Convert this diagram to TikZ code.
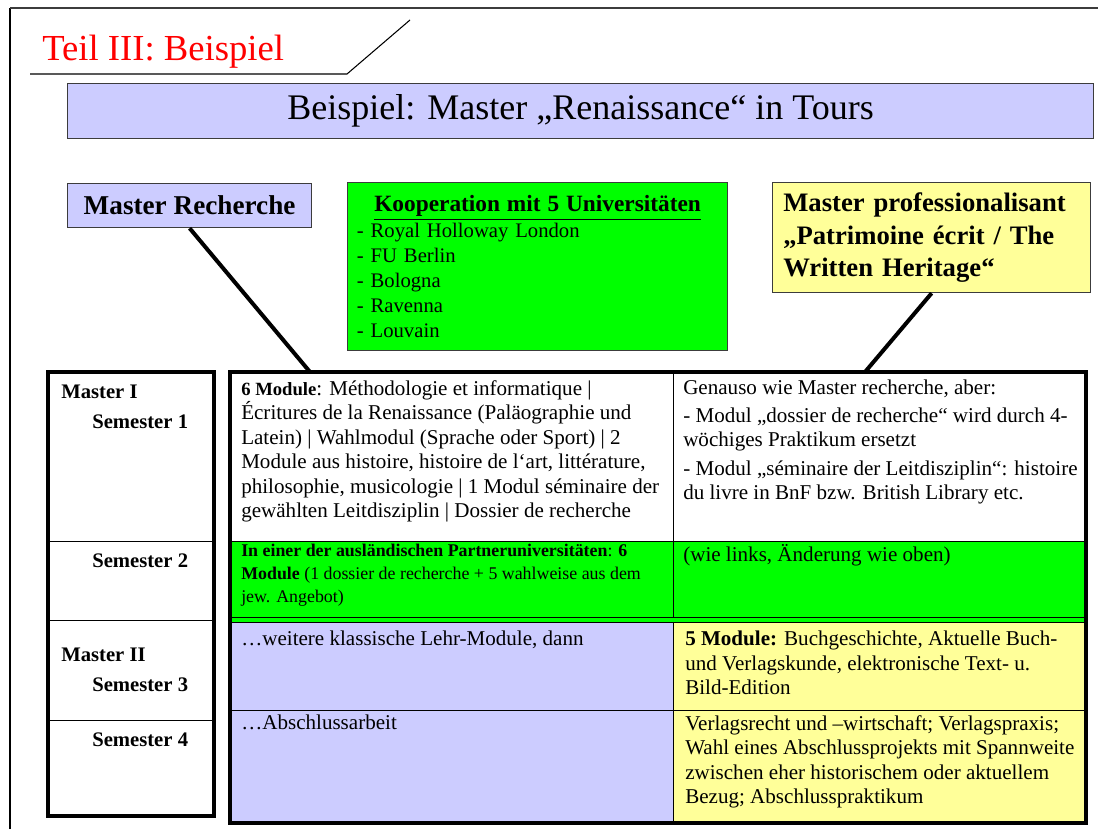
\documentclass[tikz,border=0pt]{standalone}
\usepackage{fontspec}
\setmainfont{Liberation Serif}
\usepackage{tikz}
\usetikzlibrary{positioning, calc}
\definecolor{mylav}{RGB}{204,204,255}
\definecolor{mygreen}{RGB}{0,255,0}
\definecolor{myyellow}{RGB}{255,255,153}
\definecolor{myred}{RGB}{255,0,0}
\definecolor{myframe}{RGB}{60,60,60}
\tikzset{
  topbox/.style={rectangle, draw=myframe, line width=0.9pt,
    anchor=north west, inner ysep=0pt},
  cell/.style={rectangle, draw=black, line width=0.9pt,
    anchor=north west, inner sep=0pt},
  celltext/.style={anchor=north west, align=left, inner sep=0pt,
    font=\fontsize{15.8}{18.4}\selectfont},
  semlabel/.style={anchor=base west, inner sep=0pt,
    font=\bfseries\fontsize{15.5}{18}\selectfont},
  connector/.style={line width=3pt, color=black},
  outer/.style={line width=3pt, color=black}
}

\begin{document}
\begin{tikzpicture}[x=0.75pt, y=-0.75pt]
  \useasboundingbox (0,0) rectangle (1098,829);

  % Frame and heading
  \draw[line width=1.7pt] (10,829) -- (10,8);
  \draw[line width=1.2pt, color=myframe] (10,8) -- (1098,8);
  \node (teil) at (42,60) [anchor=base west, inner sep=0pt, text=myred,
    font=\fontsize{27.5}{32}\selectfont] {Teil III: Beispiel};
  \coordinate (hl0) at (30,74);
  \coordinate (hl1) at (347,74);
  \coordinate (hl2) at (410,20);
  \draw[line width=0.8pt] (hl0) -- (hl1) -- (hl2);

  % Title bar
  \node (titel) at (67,83) [topbox, fill=mylav, minimum width=769.5pt,
    minimum height=41.25pt, font=\fontsize{27}{32}\selectfont]
    {Beispiel: Master „Renaissance“ in Tours};

  % Upper boxes
  \node (recherche) at (67,183) [topbox, fill=mylav, minimum width=183pt,
    minimum height=33pt, font=\bfseries\fontsize{20.4}{24}\selectfont]
    {Master Recherche};
  \node (koop) at (347,182) [topbox, fill=mygreen, minimum width=285pt,
    minimum height=126pt, text width=271pt, inner xsep=7pt, align=left,
    font=\fontsize{15.5}{18.8}\selectfont]
    {\makebox[\linewidth]{\bfseries\fontsize{17.5}{18.8}\selectfont\underline{Kooperation mit 5 Universitäten}}\\
     - Royal Holloway London\\ - FU Berlin\\ - Bologna\\ - Ravenna\\ - Louvain};
  \node (prof) at (772,182) [topbox, fill=myyellow, minimum width=238.5pt,
    minimum height=82.5pt, text width=222.5pt, inner xsep=8pt, align=left,
    font=\bfseries\fontsize{20}{24.4}\selectfont]
    {Master professionalisant\\„Patrimoine écrit / The\\Written Heritage“};

  % Semester column
  \node (l1) at (48,372) [cell, minimum width=123.75pt, minimum height=126.75pt] {};
  \node (l2) at (48,541) [cell, minimum width=123.75pt, minimum height=59.25pt] {};
  \node (l3) at (48,620) [cell, minimum width=123.75pt, minimum height=75pt] {};
  \node (l4) at (48,720) [cell, minimum width=123.75pt, minimum height=71.25pt] {};
  \draw[outer] (l1.north west) rectangle (l4.south east);
  \node[semlabel] (m1) at ([shift={(13,26)}]l1.north west) {Master I};
  \node[semlabel] (s1) at ([shift={(44,56)}]l1.north west) {Semester 1};
  \node[semlabel] (s2) at ([shift={(44,26)}]l2.north west) {Semester 2};
  \node[semlabel] (m2) at ([shift={(13,41)}]l3.north west) {Master II};
  \node[semlabel] (s3) at ([shift={(44,71)}]l3.north west) {Semester 3};
  \node[semlabel] (s4) at ([shift={(44,26)}]l4.north west) {Semester 4};

  % Main table
  \node (c11) at (230,372) [cell, fill=white, minimum width=332.25pt, minimum height=126.75pt] {};
  \node (c12) at (673,372) [cell, fill=white, minimum width=309pt, minimum height=126.75pt] {};
  \node (c21) at (230,541) [cell, fill=mygreen, minimum width=332.25pt, minimum height=57pt] {};
  \node (c22) at (673,541) [cell, fill=mygreen, minimum width=309pt, minimum height=57pt] {};
  \node (strip) at (230,617) [cell, fill=mygreen, minimum width=641.25pt, minimum height=3.75pt] {};
  \node (c31) at (230,622) [cell, fill=mylav, minimum width=332.25pt, minimum height=66pt] {};
  \node (c32) at (673,622) [cell, fill=myyellow, minimum width=309pt, minimum height=66pt] {};
  \node (c41) at (230,710) [cell, fill=mylav, minimum width=332.25pt, minimum height=84pt] {};
  \node (c42) at (673,710) [cell, fill=myyellow, minimum width=309pt, minimum height=84pt] {};
  \draw[outer] (c11.north west) rectangle (c42.south east);

  % Cell texts
  \node[celltext] (t11) at ([shift={(11,8)}]c11.north west)
    {{\bfseries\fontsize{14}{18.4}\selectfont 6 Module}: Méthodologie et informatique |\\
     Écritures de la Renaissance (Paläographie und\\
     Latein) | Wahlmodul (Sprache oder Sport) | 2\\
     Module aus histoire, histoire de l‘art, littérature,\\
     philosophie, musicologie | 1 Modul séminaire der\\
     gewählten Leitdisziplin | Dossier de recherche};
  \node[celltext] (t12) at ([shift={(10,8)}]c12.north west)
    {Genauso wie Master recherche, aber:\\[2pt]
     - Modul „dossier de recherche“ wird durch 4-\\
     wöchiges Praktikum ersetzt\\[3pt]
     - Modul „séminaire der Leitdisziplin“: histoire\\
     du livre in BnF bzw. British Library etc.};
  \node[celltext, font=\fontsize{13.4}{17.2}\selectfont] (t21) at ([shift={(11,3)}]c21.north west)
    {\textbf{In einer der ausländischen Partneruniversitäten}: \textbf{6}\\
     \textbf{Module} (1 dossier de recherche + 5 wahlweise aus dem\\
     jew. Angebot)};
  \node[celltext] (t22) at ([shift={(10,3)}]c22.north west)
    {(wie links, Änderung wie oben)};
  \node[celltext] (t31) at ([shift={(11,9)}]c31.north west)
    {…weitere klassische Lehr-Module, dann};
  \node[celltext] (t32) at ([shift={(12,9)}]c32.north west)
    {\textbf{5 Module:} Buchgeschichte, Aktuelle Buch-\\
     und Verlagskunde, elektronische Text- u.\\
     Bild-Edition};
  \node[celltext] (t41) at ([shift={(11,5)}]c41.north west)
    {…Abschlussarbeit};
  \node[celltext] (t42) at ([shift={(12,5)}]c42.north west)
    {Verlagsrecht und –wirtschaft; Verlagspraxis;\\
     Wahl eines Abschlussprojekts mit Spannweite\\
     zwischen eher historischem oder aktuellem\\
     Bezug; Abschlusspraktikum};

  % Connectors
  \coordinate (rtop) at (310,372);
  \coordinate (ptop) at (865,372);
  \draw[connector] (recherche.south) -- (rtop);
  \draw[connector] (prof.south) -- (ptop);
\end{tikzpicture}
\end{document}
